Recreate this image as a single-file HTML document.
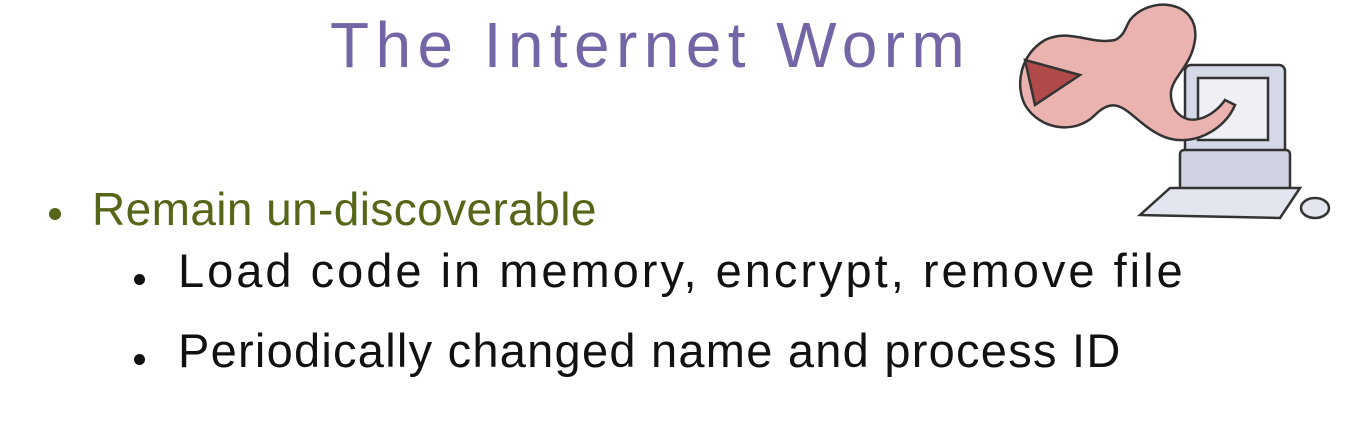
<!DOCTYPE html>
<html><head><meta charset="utf-8"><style>
body{margin:0;width:1348px;height:444px;background:#fff;overflow:hidden;position:relative;font-family:"Liberation Sans",sans-serif}
.t{position:absolute;white-space:nowrap}
</style></head><body>
<div class="t" style="left:330px;top:8px;font-size:64px;color:#7466a6;letter-spacing:6.4px">The Internet Worm</div>
<div class="t" style="left:49px;top:208px;width:12px;height:12px;border-radius:50%;background:#566618"></div>
<div class="t" style="left:92px;top:182px;font-size:46px;color:#566618;letter-spacing:0.4px">Remain un-discoverable</div>
<div class="t" style="left:134px;top:274px;width:11px;height:11px;border-radius:50%;background:#111"></div>
<div class="t" style="left:178px;top:243px;font-size:47px;color:#111;letter-spacing:3px">Load code in memory, encrypt, remove file</div>
<div class="t" style="left:134px;top:354px;width:11px;height:11px;border-radius:50%;background:#111"></div>
<div class="t" style="left:178px;top:323px;font-size:47px;color:#111;letter-spacing:1.25px">Periodically changed name and process ID</div>
<svg style="position:absolute;left:1000px;top:0" width="348" height="230">
<g stroke="#333" stroke-width="2.5">
<rect x="185" y="65" width="100" height="90" rx="6" fill="#d5d8e6"/>
<rect x="198" y="78" width="70" height="62" fill="#eef0f6"/>
<rect x="180" y="150" width="110" height="40" rx="4" fill="#cfd3e2"/>
<polygon points="140,215 170,188 300,188 280,218" fill="#e4e6ef"/>
<ellipse cx="315" cy="208" rx="14" ry="10" fill="#e4e6ef"/>
<path d="M130,20 C150,-5 200,0 195,40 C190,75 160,80 175,110 C190,130 215,115 225,100 L235,105 C225,130 190,150 160,135 C130,120 120,90 95,115 C75,135 40,130 25,105 C15,85 20,55 45,40 C70,28 90,45 115,40 C125,35 125,28 130,20 Z" fill="#eab3b0"/>
<path d="M25,60 L80,75 L35,105 Z" fill="#b04a4a"/>
</g>
</svg>
</body></html>
